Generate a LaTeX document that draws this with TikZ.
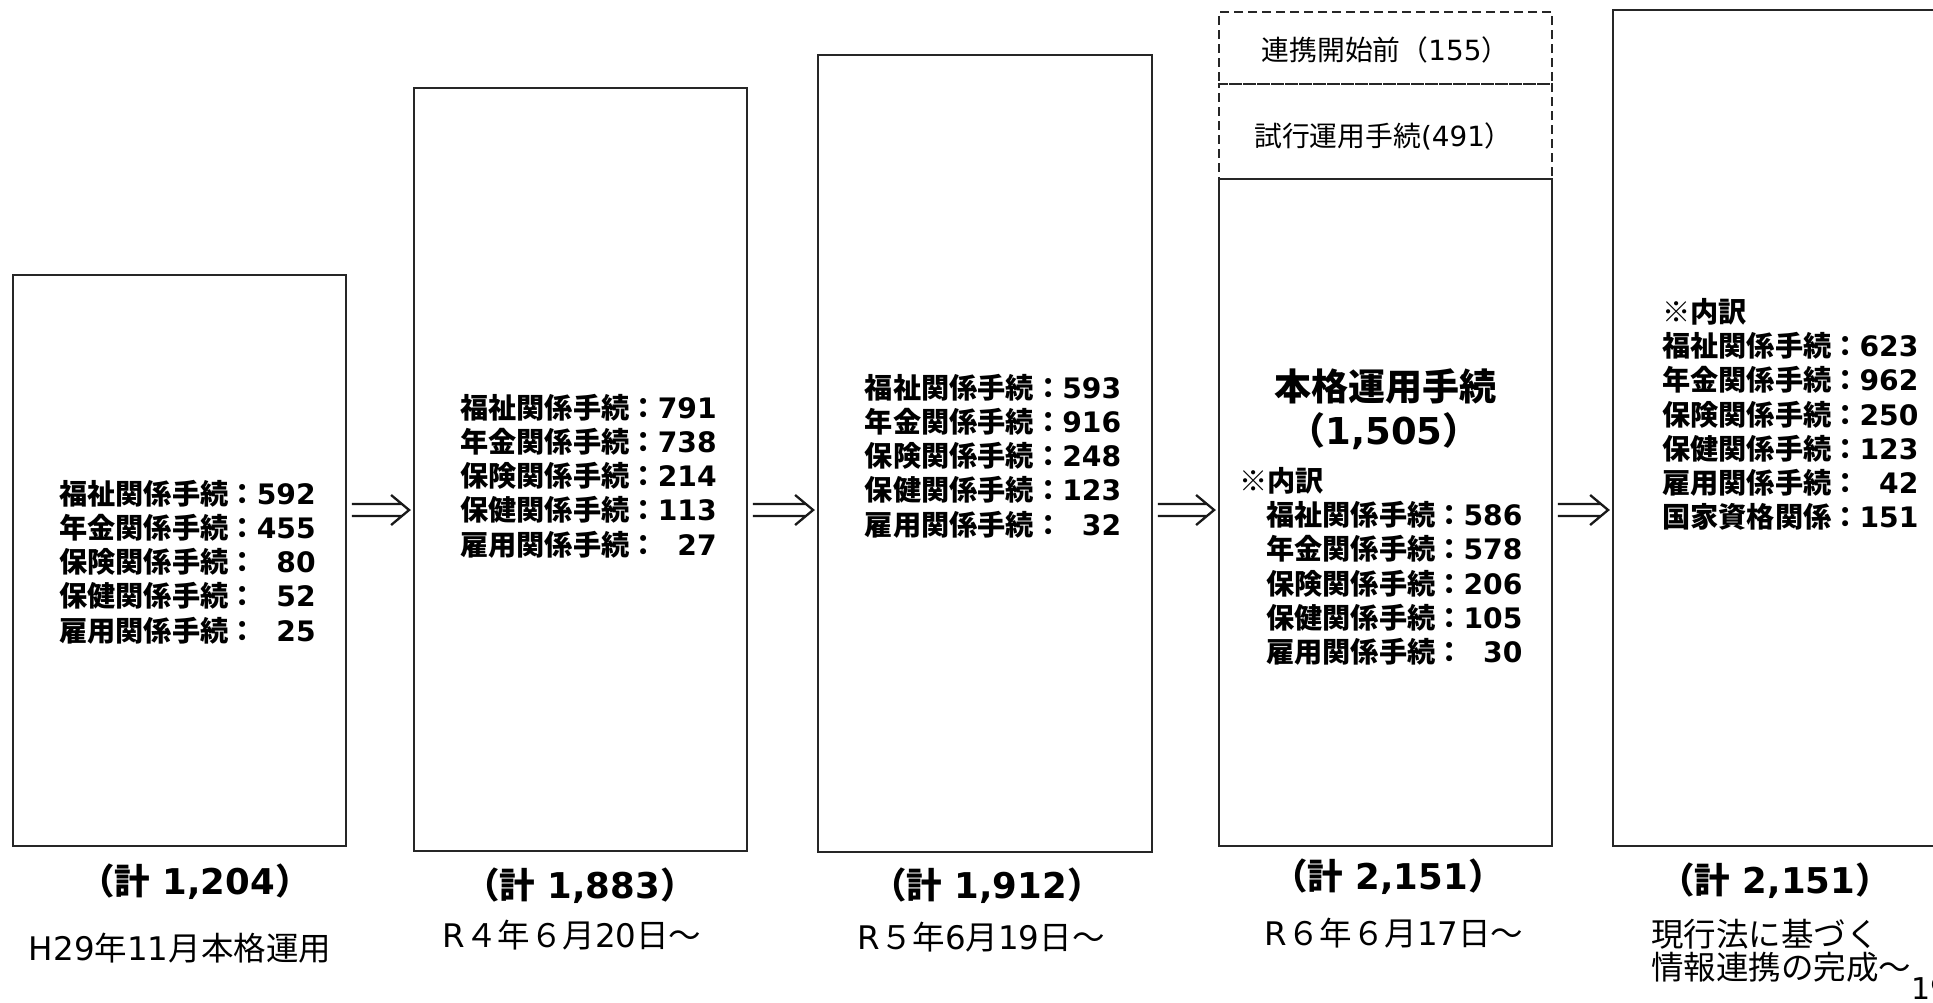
\documentclass[tikz,border=0pt]{standalone}
\usepackage{fontspec}
\setmainfont{DejaVu Sans}
\newfontfamily\jp{Noto Sans CJK JP}
\usetikzlibrary{calc}
\newcommand\J[1]{{\jp #1}}
\tikzset{
 box/.style={draw=black!85, line width=1.8pt, minimum width=333pt, inner sep=0pt},
 dashbox/.style={draw=black!85, line width=1.8pt, dash pattern=on 9pt off 5pt, minimum width=333pt, inner sep=0pt},
 dashtext/.style={inner sep=0pt, font=\fontsize{27.8}{32}\selectfont},
 body/.style={inner sep=0pt, font=\fontsize{28.2}{33.5}\selectfont\bfseries},
 title/.style={inner sep=0pt, font=\fontsize{37}{44}\selectfont\bfseries},
 total/.style={inner sep=0pt, font=\fontsize{35.5}{40}\selectfont\bfseries},
 datelbl/.style={inner sep=0pt, font=\fontsize{32.5}{33}\selectfont},
 dblarrow/.style={line width=2.3pt, draw=black!90, line join=miter, to path={
   ($(\tikztostart)+(5,-6)$) -- ($(\tikztotarget)+(-12,-6)$)
   ($(\tikztostart)+(5,6)$) -- ($(\tikztotarget)+(-12,6)$)
   ($(\tikztotarget)+(-22,-15)$) -- ($(\tikztotarget)+(-4,0)$) -- ($(\tikztotarget)+(-22,15)$)
 }}
}
\begin{document}
\begin{tikzpicture}[x=1pt,y=-1pt]
\useasboundingbox (0,0) rectangle (1933,1002);
\fill[white] (0,0) rectangle (1933,1002);
\clip (0,0) rectangle (1933,1002);

% boxes
\node[box, minimum height=571pt] (b1) at (179.5,560.5) {};
\node[box, minimum height=763pt] (b2) at (580.5,469.5) {};
\node[box, minimum height=797pt, minimum width=334pt] (b3) at (985,453.5) {};
\node[dashbox, minimum height=72pt] (pre) at (1385.5,48) {};
\node[dashbox, minimum height=95pt] (trial) at (1385.5,131.5) {};
\node[box, minimum height=667pt] (b4) at (1385.5,512.5) {};
\node[box, minimum height=836pt] (b5) at (1779.5,428) {};

% box texts
\node[body] (x1) at ($(b1.center)+(8,5)$) {%
\begin{tabular}{@{}l@{}r@{}}
\J{福祉関係手続：}&592\\
\J{年金関係手続：}&455\\
\J{保険関係手続：}&80\\
\J{保健関係手続：}&52\\
\J{雇用関係手続：}&25
\end{tabular}};

\node[body] (x2) at ($(b2.center)+(8,10)$) {%
\begin{tabular}{@{}l@{}r@{}}
\J{福祉関係手続：}&791\\
\J{年金関係手続：}&738\\
\J{保険関係手続：}&214\\
\J{保健関係手続：}&113\\
\J{雇用関係手続：}&27
\end{tabular}};

\node[body] (x3) at ($(b3.center)+(8,6)$) {%
\begin{tabular}{@{}l@{}r@{}}
\J{福祉関係手続：}&593\\
\J{年金関係手続：}&916\\
\J{保険関係手続：}&248\\
\J{保健関係手続：}&123\\
\J{雇用関係手続：}&32
\end{tabular}};

\node[dashtext] (pret) at ($(pre.center)+(0,2)$) {\J{連携開始前（}155\J{）}};
\node[dashtext] (trialt) at ($(trial.center)+(-2,5)$) {\J{試行運用手続}(491\J{）}};

% box 4 text
\node[title] (t4) at (1385.5,386) {\J{本格運用手続}};
\node[title] (n4) at (1384,431) {\J{（}1,505\J{）}};
\node[body, anchor=west] (l4) at (1239,570) {%
\begin{tabular}{@{}l@{}r@{}}
\multicolumn{2}{@{}l@{}}{\J{※内訳}}\\
\hspace{27pt}\J{福祉関係手続：}&586\\
\hspace{27pt}\J{年金関係手続：}&578\\
\hspace{27pt}\J{保険関係手続：}&206\\
\hspace{27pt}\J{保健関係手続：}&105\\
\hspace{27pt}\J{雇用関係手続：}&30
\end{tabular}};

% box 5 text
\node[body, anchor=west] (l5) at (1662,418) {%
\begin{tabular}{@{}l@{}r@{}}
\multicolumn{2}{@{}l@{}}{\J{※内訳}}\\
\J{福祉関係手続：}&623\\
\J{年金関係手続：}&962\\
\J{保険関係手続：}&250\\
\J{保健関係手続：}&123\\
\J{雇用関係手続：}&42\\
\J{国家資格関係：}&151
\end{tabular}};

% arrows
\coordinate (ay) at (0,510);
\draw[dblarrow] (b1.east |- ay) to (b2.west |- ay);
\draw[dblarrow] (b2.east |- ay) to (b3.west |- ay);
\draw[dblarrow] (b3.east |- ay) to (b4.west |- ay);
\draw[dblarrow] (b4.east |- ay) to (b5.west |- ay);

% totals
\node[total] (s1) at (195,882) {\J{（計} 1,204\J{）}};
\node[total] (s2) at (580,886) {\J{（計} 1,883\J{）}};
\node[total] (s3) at (987,886) {\J{（計} 1,912\J{）}};
\node[total] (s4) at (1388,877) {\J{（計} 2,151\J{）}};
\node[total] (s5) at (1775,881) {\J{（計} 2,151\J{）}};

% dates
\node[datelbl] (d1) at (180,948) {H29\J{年}11\J{月本格運用}};
\node[datelbl] (d2) at (572,935) {R\J{４年６月}20\J{日～}};
\node[datelbl] (d3) at (981,937) {R\J{５年}6\J{月}19\J{日～}};
\node[datelbl] (d4) at (1394,933) {R\J{６年６月}17\J{日～}};
\node[datelbl, anchor=west, align=left] (d5) at (1651,951) {\J{現行法に基づく}\\\J{情報連携の完成～}};
\node[inner sep=0pt, anchor=north west, font=\fontsize{30}{30}\selectfont] (pg) at (1911,977) {19};
\end{tikzpicture}
\end{document}
